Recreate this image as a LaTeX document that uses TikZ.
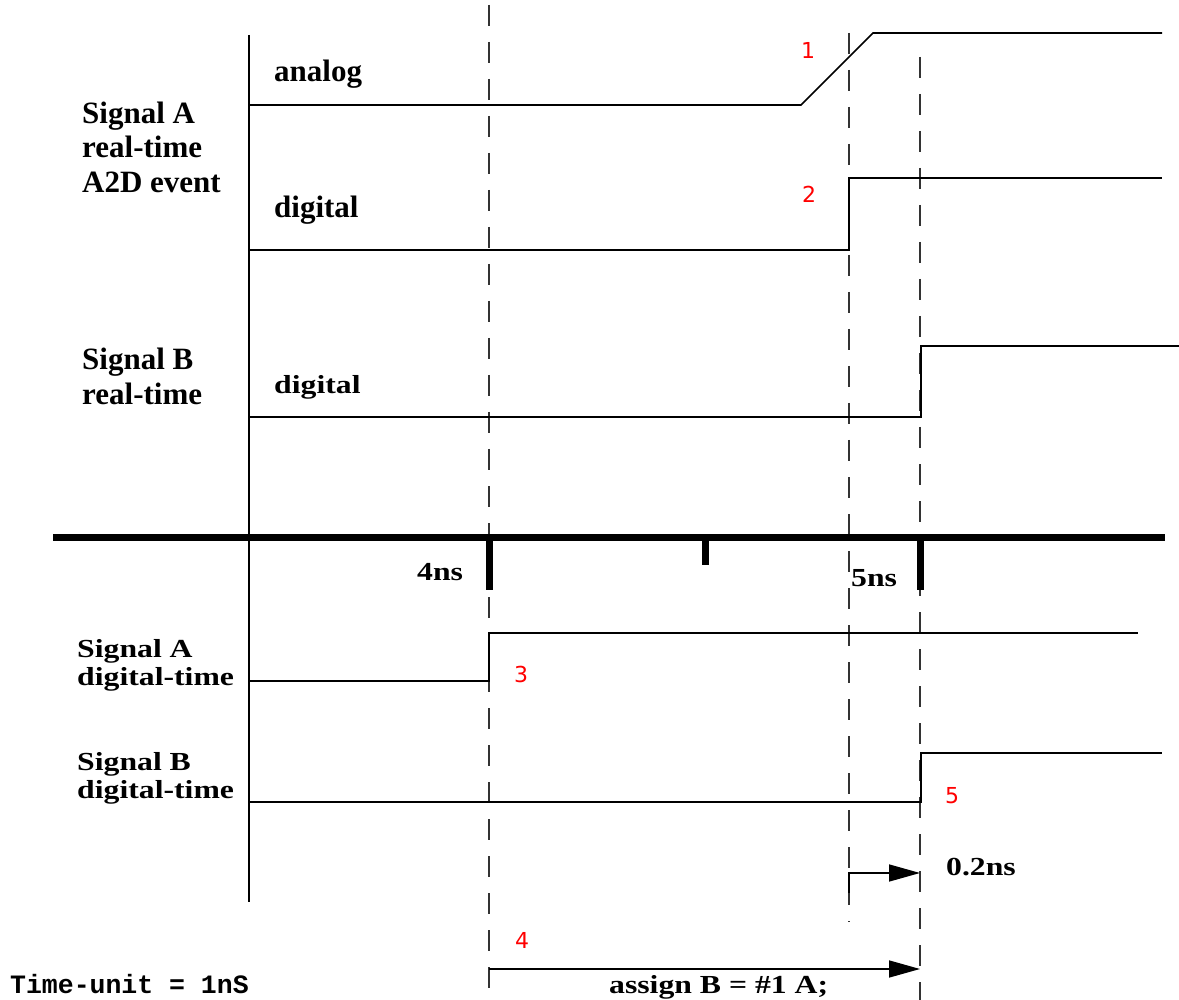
\documentclass[tikz,border=0pt]{standalone}
\usepackage{fontspec}
\setmainfont{Liberation Serif}
\newfontfamily\widefont{Liberation Serif}[FakeStretch=1.22]
\newfontfamily\numfont{DejaVu Sans}
\newfontfamily\monob{Liberation Mono}
\usetikzlibrary{arrows.meta}
\begin{document}
\begin{tikzpicture}[x=1pt,y=-1pt,
  biglab/.style={anchor=base west,inner sep=0pt,font=\bfseries\fontsize{31}{35}\selectfont},
  widelab/.style={anchor=base west,inner sep=0pt,font=\widefont\bfseries\fontsize{26}{28}\selectfont},
  rednum/.style={anchor=center,inner sep=0pt,text=red,font=\numfont\fontsize{22}{24}\selectfont},
  monolab/.style={anchor=base west,inner sep=0pt,font=\monob\bfseries\fontsize{26.5}{28}\selectfont},
  sig/.style={line width=1.6pt,black},
  guide/.style={line width=1.6pt,black!80,dash pattern=on 21pt off 16pt},
  thick axis/.style={line width=7pt,black},
  arr/.style={line width=1.6pt,-{Triangle[length=31pt,width=17pt]}}]
\fill[white] (0,0) rectangle (1179,1000);
\useasboundingbox (0,0) rectangle (1179,1000);

% guide dashed lines
\draw[guide] (489,5) coordinate (g1t) -- (489,1000) coordinate (g1b);
\draw[guide] (849,33) coordinate (g2t) -- (849,922) coordinate (g2b);
\draw[guide] (920,57) coordinate (g3t) -- (920,1000) coordinate (g3b);

% vertical axis
\draw[sig] (249,35) coordinate (vt) -- (249,902) coordinate (vb);

% Signal A analog
\draw[sig] (249,105) -- (801,105) -- (873,33) -- (1162,33);
% Signal A digital
\draw[sig] (249,250) -- (849,250) -- (849,178) -- (1162,178);
% Signal B real-time digital
\draw[sig] (249,417) -- (921,417) -- (921,346) -- (1179,346);

% time axis
\draw[thick axis] (53,537) coordinate (ta) -- (1165,537) coordinate (tb);
\draw[thick axis,line cap=butt] (489,537) -- (489,590);
\draw[thick axis,line cap=butt] (705,537) -- (705,565);
\draw[thick axis,line cap=butt] (920,537) -- (920,590);

% Signal A digital-time
\draw[sig] (249,681) -- (489,681) -- (489,633) -- (1138,633);
% Signal B digital-time
\draw[sig] (249,802) -- (921,802) -- (921,753) -- (1162,753);

% delay arrows
\coordinate (d1s) at (849,893);
\coordinate (d1c) at (849,873);
\coordinate (d1e) at (920,873);
\draw[arr] (d1s) -- (d1c) -- (d1e);
\coordinate (d2s) at (489,969);
\coordinate (d2e) at (920,969);
\draw[arr] (d2s) -- (d2e);

% labels
\node[biglab] (sa1) at (82,124) {Signal A};
\node[biglab] (sa2) at (82,158) {real-time};
\node[biglab] (sa3) at (82,193) {A2D event};
\node[biglab] (an) at (274,82) {analog};
\node[biglab] (dga) at (274,218) {digital};
\node[biglab] (sb1) at (82,370) {Signal B};
\node[biglab] (sb2) at (82,405) {real-time};
\node[widelab] (dgb) at (274,394) {digital};

\node[widelab] (sad1) at (77,657) {Signal A};
\node[widelab] (sad2) at (77,685) {digital-time};
\node[widelab] (sbd1) at (77,770) {Signal B};
\node[widelab] (sbd2) at (77,798) {digital-time};

\node[widelab] (t4) at (417,580) {4ns};
\node[widelab] (t5) at (851,586) {5ns};
\node[widelab] (t02) at (946,875) {0.2ns};
\node[widelab] (asg) at (609,993) {assign B = \#1 A;};
\node[monolab] (tu) at (10,993) {Time-unit = 1nS};

\node[rednum] (n1) at (808,50) {1};
\node[rednum] (n2) at (809,194) {2};
\node[rednum] (n3) at (521,674) {3};
\node[rednum] (n4) at (522,940) {4};
\node[rednum] (n5) at (952,796) {5};
\end{tikzpicture}
\end{document}
